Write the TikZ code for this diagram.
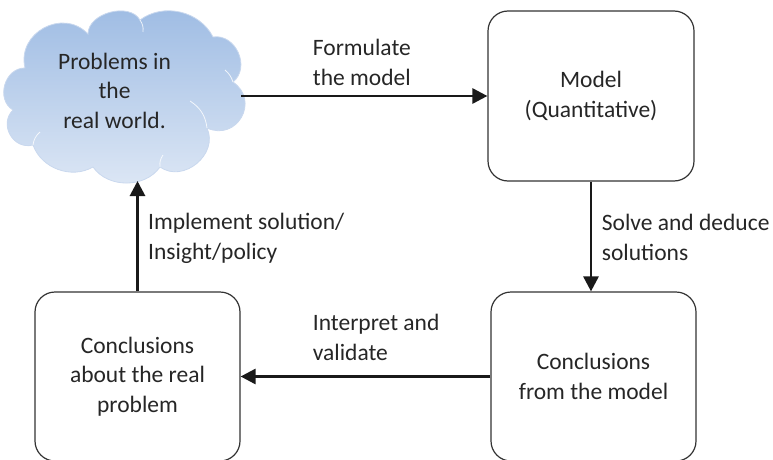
\documentclass[tikz,border=0pt]{standalone}
\usepackage{fontspec}
\setmainfont{Carlito}
\usetikzlibrary{arrows.meta}
\definecolor{txt}{HTML}{262626}
\definecolor{boxline}{HTML}{333333}
\definecolor{cloudtop}{HTML}{9DBBE3}
\definecolor{cloudbot}{HTML}{DDE7F5}
\definecolor{cloudedge}{HTML}{C9D8EE}
\begin{document}
\begin{tikzpicture}[x=1pt,y=-1pt,
  every node/.style={text=txt,font=\fontsize{23.5}{29.3}\selectfont,inner sep=0pt},
  stagebox/.style={draw=boxline,line width=1.2pt,rounded corners=20pt,align=center,fill=white},
  flowarrow/.style={draw=black!90,line width=2.8pt,-{Triangle[length=15pt,width=15pt]}},
  steplabel/.style={anchor=base west,align=left}
]
\useasboundingbox (0,0) rectangle (773,460);
% cloud
\path[top color=cloudtop,bottom color=cloudbot,draw=cloudedge,line width=0.8pt]
  (25,68) to[bend left=75,looseness=1.3] (88,34)
  to[bend left=75,looseness=1.0] (140,20)
  to[bend left=50] (213,37)
  to[bend left=75,looseness=1.2] (233,82)
  to[bend left=85,looseness=1.6] (207,128)
  to[bend left=75,looseness=1.2] (160,167)
  to[bend left=55] (93,167)
  to[bend left=50] (33,145)
  to[bend left=75,looseness=1.3] (13,110)
  to[bend left=75,looseness=1.2] (25,68) -- cycle;
\draw[white,line width=0.8pt,opacity=0.8] (190,101) to[bend left=25] (207,128);
\draw[white,line width=0.8pt,opacity=0.8] (143,32) to[bend right=20] (140,20);
\draw[white,line width=0.8pt,opacity=0.8] (33,145) to[bend left=20] (40,132);
\draw[white,line width=0.8pt,opacity=0.8] (160,167) to[bend left=20] (163,155);
\draw[white,line width=0.8pt,opacity=0.8] (225,70) to[bend left=15] (233,82);
\node[align=center,anchor=base] (cloud) at (114.5,128) {Problems in\\the\\real world.};
\coordinate (cloudR) at (241,96);
\coordinate (cloudB) at (137.5,181);
% boxes
\node[stagebox,minimum width=206pt,minimum height=170pt] (model) at (591,96) {Model\\(Quantitative)};
\node[stagebox,minimum width=205pt,minimum height=169pt] (fromm) at (593.5,376.5) {Conclusions\\from the model};
\node[stagebox,minimum width=205pt,minimum height=169pt] (about) at (137.5,376.5) {Conclusions\\about the real\\problem};
% arrows
\draw[flowarrow] (cloudR) -- (model.west |- cloudR);
\draw[flowarrow] (model.south) -- (model.south |- fromm.north);
\draw[flowarrow] (fromm.west) -- (about.east);
\draw[flowarrow] (about.north) -- (cloudB);
% labels
\node[steplabel] (lf) at (312.7,85) {Formulate\\the model};
\node[steplabel] (ls) at (601.7,260) {Solve and deduce\\solutions};
\node[steplabel] (li) at (148,259) {Implement solution/\\Insight/policy};
\node[steplabel] (lv) at (312.7,360) {Interpret and\\validate};
\end{tikzpicture}
\end{document}
